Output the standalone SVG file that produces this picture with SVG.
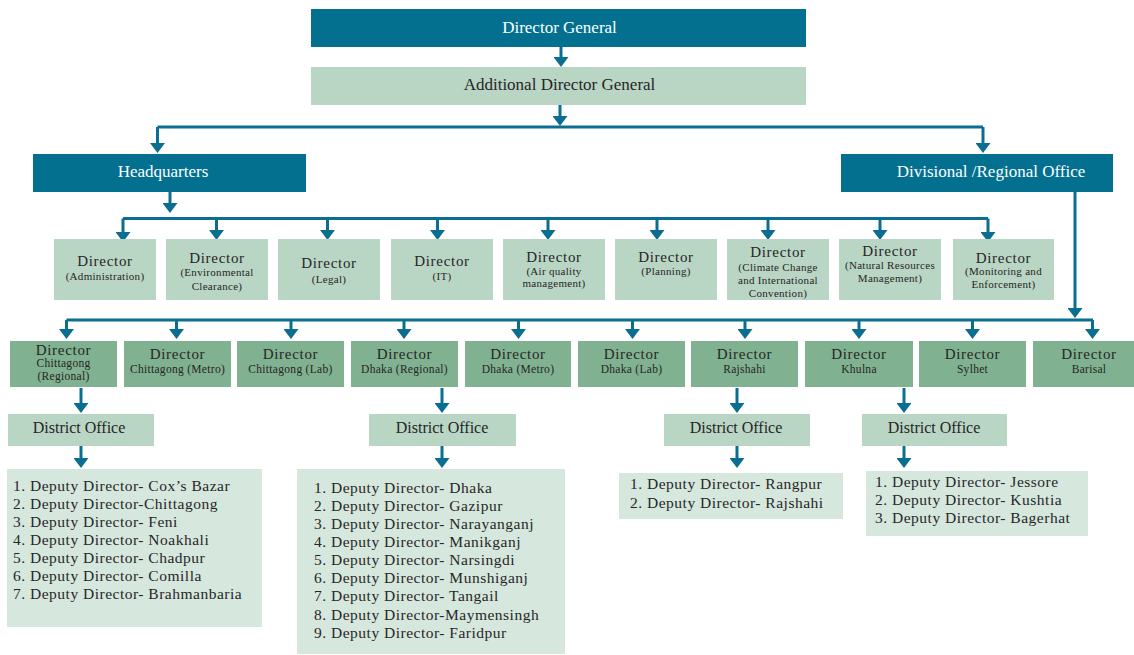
<svg xmlns="http://www.w3.org/2000/svg" width="1134" height="655" viewBox="0 0 1134 655">
<defs>
<marker id="ah" viewBox="0 0 10 15" refX="4" refY="7.5" markerWidth="10" markerHeight="15" markerUnits="userSpaceOnUse" orient="auto">
<path d="M0,0 L10,7.5 L0,15 z" fill="#0a6e91"/>
</marker>
<style>
.dark{fill:#03708f}
.light{fill:#b9d5c4}
.reg{fill:#80b190}
.list{fill:#d6e7de}
text{font-family:"Liberation Serif","DejaVu Serif",serif;fill:#262626}
.wt{fill:#ffffff;font-size:17px;text-anchor:middle}
.t17{font-size:17px;text-anchor:middle}
.dir{font-size:15px;letter-spacing:0.7px;text-anchor:middle}
.sub{font-size:11px;letter-spacing:0.3px;text-anchor:middle}
.rsub{font-size:11.5px;letter-spacing:0.3px;text-anchor:middle}
.do{font-size:16px;text-anchor:middle}
.li{font-size:15.5px;letter-spacing:0.5px}
.c{fill:none;stroke:#0a6e91;stroke-width:3}
.a{fill:none;stroke:#0a6e91;stroke-width:3;marker-end:url(#ah)}
</style>
</defs>
<rect width="1134" height="655" fill="#ffffff"/>

<g id="connectors">
<path class="a" d="M561,47 V61"/>
<path class="a" d="M560,105 V120"/>
<path class="c" d="M157.5,127 H983"/>
<path class="a" d="M157.5,127 V147"/>
<path class="a" d="M983,127 V147"/>
<path class="a" d="M170,192 V207"/>
<path class="c" d="M123,218.5 H988"/>
<path class="a" d="M123,218.5 V236"/>
<path class="a" d="M216.5,218.5 V234"/>
<path class="a" d="M327.5,218.5 V234"/>
<path class="a" d="M437.5,218.5 V234"/>
<path class="a" d="M548,218.5 V234"/>
<path class="a" d="M657,218.5 V234"/>
<path class="a" d="M768,218.5 V234"/>
<path class="a" d="M880,218.5 V234"/>
<path class="a" d="M988,218.5 V236"/>
<path class="a" d="M1075,192 V312"/>
<path class="c" d="M66.5,320 H1093"/>
<path class="a" d="M66.5,320 V333"/>
<path class="a" d="M176.5,320 V333"/>
<path class="a" d="M291,320 V333"/>
<path class="a" d="M404,320 V333"/>
<path class="a" d="M518.5,320 V333"/>
<path class="a" d="M632.5,320 V333"/>
<path class="a" d="M745,320 V333"/>
<path class="a" d="M859,320 V333"/>
<path class="a" d="M972.5,320 V333"/>
<path class="a" d="M1092.5,320 V333"/>
<path class="a" d="M81,388 V407"/>
<path class="a" d="M442,388 V407"/>
<path class="a" d="M737,388 V407"/>
<path class="a" d="M904,388 V407"/>
<path class="a" d="M81,446 V462"/>
<path class="a" d="M442,446 V462"/>
<path class="a" d="M737,446 V462"/>
<path class="a" d="M904,446 V462"/>
</g>

<g id="director-general"><rect class="dark" x="311" y="9" width="495" height="38"/><text class="wt" x="559.5" y="33">Director General</text></g>
<g id="additional-director-general"><rect class="light" x="311" y="67" width="495" height="38"/><text class="t17" x="559.5" y="90">Additional Director General</text></g>
<g id="headquarters"><rect class="dark" x="33" y="154" width="273" height="38"/><text class="wt" x="163" y="177">Headquarters</text></g>
<g id="divisional-office"><rect class="dark" x="841" y="154" width="272" height="38"/><text class="wt" x="991" y="177">Divisional /Regional Office</text></g>

<g id="dir-administration"><rect class="light" x="54" y="239" width="102" height="61"/><text class="dir" x="105" y="266">Director</text><text class="sub" x="105" y="280">(Administration)</text></g>
<g id="dir-environmental-clearance"><rect class="light" x="166" y="239" width="102" height="61"/><text class="dir" x="217" y="263">Director</text><text class="sub" x="217" y="276">(Environmental</text><text class="sub" x="217" y="290">Clearance)</text></g>
<g id="dir-legal"><rect class="light" x="278" y="239" width="102" height="61"/><text class="dir" x="329" y="268">Director</text><text class="sub" x="329" y="283">(Legal)</text></g>
<g id="dir-it"><rect class="light" x="391" y="239" width="102" height="61"/><text class="dir" x="442" y="266">Director</text><text class="sub" x="442" y="280">(IT)</text></g>
<g id="dir-air-quality"><rect class="light" x="503" y="239" width="102" height="61"/><text class="dir" x="554" y="262">Director</text><text class="sub" x="554" y="275">(Air quality</text><text class="sub" x="554" y="287">management)</text></g>
<g id="dir-planning"><rect class="light" x="615" y="239" width="102" height="61"/><text class="dir" x="666" y="262">Director</text><text class="sub" x="666" y="275">(Planning)</text></g>
<g id="dir-climate-change"><rect class="light" x="727" y="239" width="102" height="61"/><text class="dir" x="778" y="257">Director</text><text class="sub" x="778" y="270.5">(Climate Change</text><text class="sub" x="778" y="283.5">and International</text><text class="sub" x="778" y="296.5">Convention)</text></g>
<g id="dir-natural-resources"><rect class="light" x="839" y="239" width="102" height="61"/><text class="dir" x="890" y="256">Director</text><text class="sub" x="890" y="269">(Natural Resources</text><text class="sub" x="890" y="282">Management)</text></g>
<g id="dir-monitoring"><rect class="light" x="953" y="239" width="101" height="61"/><text class="dir" x="1003.5" y="263">Director</text><text class="sub" x="1003.5" y="275">(Monitoring and</text><text class="sub" x="1003.5" y="288">Enforcement)</text></g>

<g id="reg-chittagong-regional"><rect class="reg" x="10" y="341" width="107" height="46"/><text class="dir" x="63.5" y="355">Director</text><text class="rsub" x="63.5" y="367">Chittagong</text><text class="rsub" x="63.5" y="380">(Regional)</text></g>
<g id="reg-chittagong-metro"><rect class="reg" x="124" y="341" width="107" height="46"/><text class="dir" x="177.5" y="359">Director</text><text class="rsub" x="177.5" y="373">Chittagong (Metro)</text></g>
<g id="reg-chittagong-lab"><rect class="reg" x="237" y="341" width="107" height="46"/><text class="dir" x="290.5" y="359">Director</text><text class="rsub" x="290.5" y="373">Chittagong (Lab)</text></g>
<g id="reg-dhaka-regional"><rect class="reg" x="351" y="341" width="107" height="46"/><text class="dir" x="404.5" y="359">Director</text><text class="rsub" x="404.5" y="373">Dhaka (Regional)</text></g>
<g id="reg-dhaka-metro"><rect class="reg" x="465" y="341" width="106" height="46"/><text class="dir" x="518" y="359">Director</text><text class="rsub" x="518" y="373">Dhaka (Metro)</text></g>
<g id="reg-dhaka-lab"><rect class="reg" x="578" y="341" width="107" height="46"/><text class="dir" x="631.5" y="359">Director</text><text class="rsub" x="631.5" y="373">Dhaka (Lab)</text></g>
<g id="reg-rajshahi"><rect class="reg" x="691" y="341" width="107" height="46"/><text class="dir" x="744.5" y="359">Director</text><text class="rsub" x="744.5" y="373">Rajshahi</text></g>
<g id="reg-khulna"><rect class="reg" x="805" y="341" width="108" height="46"/><text class="dir" x="859" y="359">Director</text><text class="rsub" x="859" y="373">Khulna</text></g>
<g id="reg-sylhet"><rect class="reg" x="919" y="341" width="107" height="46"/><text class="dir" x="972.5" y="359">Director</text><text class="rsub" x="972.5" y="373">Sylhet</text></g>
<g id="reg-barisal"><rect class="reg" x="1033" y="341" width="107" height="46"/><text class="dir" x="1089" y="359">Director</text><text class="rsub" x="1089" y="373">Barisal</text></g>

<g id="district-chittagong"><rect class="light" x="8" y="414" width="146" height="32"/><text class="do" x="79" y="433">District Office</text></g>
<g id="district-dhaka"><rect class="light" x="369" y="414" width="147" height="32"/><text class="do" x="442" y="433">District Office</text></g>
<g id="district-rajshahi"><rect class="light" x="664" y="414" width="146" height="32"/><text class="do" x="736" y="433">District Office</text></g>
<g id="district-khulna"><rect class="light" x="862" y="414" width="145" height="32"/><text class="do" x="934" y="433">District Office</text></g>

<g id="list-chittagong"><rect class="list" x="7" y="469" width="255" height="158"/>
<text class="li" x="13" y="490.7">1. Deputy Director- Cox’s Bazar</text>
<text class="li" x="13" y="508.8">2. Deputy Director-Chittagong</text>
<text class="li" x="13" y="526.9">3. Deputy Director- Feni</text>
<text class="li" x="13" y="545">4. Deputy Director- Noakhali</text>
<text class="li" x="13" y="563.1">5. Deputy Director- Chadpur</text>
<text class="li" x="13" y="581.2">6. Deputy Director- Comilla</text>
<text class="li" x="13" y="599.3">7. Deputy Director- Brahmanbaria</text>
</g>
<g id="list-dhaka"><rect class="list" x="297" y="469" width="268" height="185"/>
<text class="li" x="314" y="492.5">1. Deputy Director- Dhaka</text>
<text class="li" x="314" y="510.6">2. Deputy Director- Gazipur</text>
<text class="li" x="314" y="528.8">3. Deputy Director- Narayanganj</text>
<text class="li" x="314" y="546.9">4. Deputy Director- Manikganj</text>
<text class="li" x="314" y="565.1">5. Deputy Director- Narsingdi</text>
<text class="li" x="314" y="583.2">6. Deputy Director- Munshiganj</text>
<text class="li" x="314" y="601.4">7. Deputy Director- Tangail</text>
<text class="li" x="314" y="619.5">8. Deputy Director-Maymensingh</text>
<text class="li" x="314" y="637.7">9. Deputy Director- Faridpur</text>
</g>
<g id="list-rajshahi"><rect class="list" x="619" y="473" width="224" height="46"/>
<text class="li" x="630" y="489">1. Deputy Director- Rangpur</text>
<text class="li" x="630" y="507.5">2. Deputy Director- Rajshahi</text>
</g>
<g id="list-khulna"><rect class="list" x="866" y="471" width="222" height="65"/>
<text class="li" x="875" y="487">1. Deputy Director- Jessore</text>
<text class="li" x="875" y="505">2. Deputy Director- Kushtia</text>
<text class="li" x="875" y="523">3. Deputy Director- Bagerhat</text>
</g>
</svg>
